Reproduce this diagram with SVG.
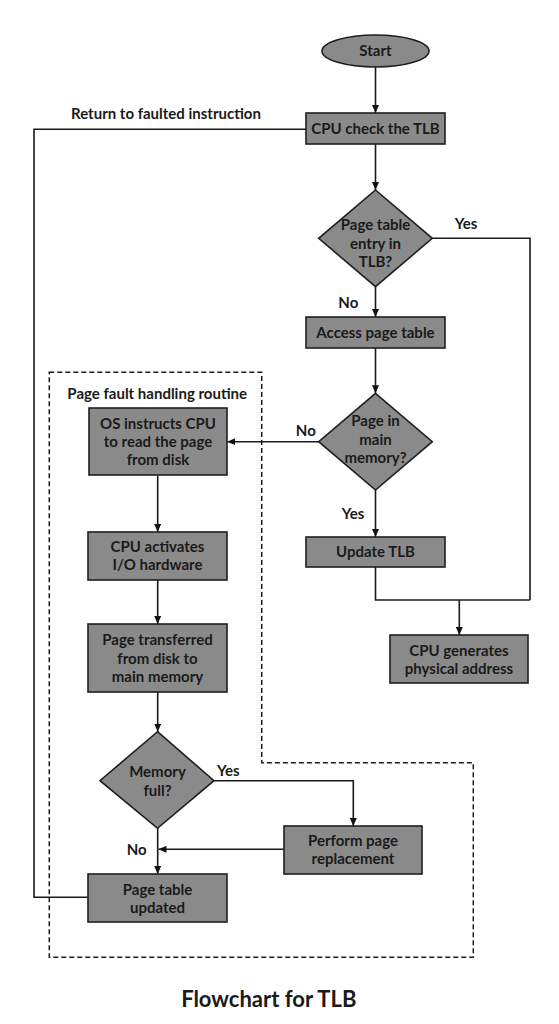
<svg xmlns="http://www.w3.org/2000/svg" width="559" height="1024" viewBox="0 0 559 1024">
<defs>
<marker id="arr" markerUnits="userSpaceOnUse" markerWidth="8" markerHeight="7" refX="8" refY="3.5" orient="auto">
<path d="M0,0 L8,3.5 L0,7 z" fill="#111"/>
</marker>
<style>
.n{fill:#8a8a8a;stroke:#1e1e1e;stroke-width:1.6}
.t{font-family:Lato,"Liberation Sans",sans-serif;font-weight:bold;font-size:15px;fill:#1a1a1a;text-anchor:middle}
.c{fill:none;stroke:#1a1a1a;stroke-width:1.6}
.a{marker-end:url(#arr)}
.d{fill:none;stroke:#1a1a1a;stroke-width:1.5;stroke-dasharray:5,3}
</style>
</defs>
<rect width="559" height="1024" fill="#fff"/>
<g id="cluster">
<path class="d" d="M49.3,372.3 H261.7 V762.7 H473.3 V957.3 H49.3 Z"/>
<text class="t" x="157.2" y="398.5">Page fault handling routine</text>
</g>
<g id="connectors">
<path class="c a" d="M375.5,67 V113"/>
<path class="c a" d="M375.5,144 V190"/>
<path class="c a" d="M375.5,286.7 V317"/>
<path class="c" d="M432.3,238.3 H530 V600"/>
<path class="c a" d="M375.5,348 V393.3"/>
<path class="c a" d="M318.7,441.7 H227.3"/>
<path class="c a" d="M375.5,490 V537"/>
<path class="c" d="M375.5,567 V600 H530"/>
<path class="c a" d="M459.3,600 V635"/>
<path class="c a" d="M157.7,475.7 V532"/>
<path class="c a" d="M157.7,580 V624"/>
<path class="c a" d="M157.7,692 V731.7"/>
<path class="c a" d="M214,780.7 H353.3 V826"/>
<path class="c a" d="M284,849.3 H158.5"/>
<path class="c a" d="M157.7,828.3 V874"/>
<path class="c" d="M88,897.3 H34 V129.3 H306"/>
<text class="t" x="166" y="118.5">Return to faulted instruction</text>
<text class="t" x="466" y="229.3">Yes</text>
<text class="t" x="348.3" y="308">No</text>
<text class="t" x="305.8" y="436.3">No</text>
<text class="t" x="353" y="519.3">Yes</text>
<text class="t" x="228.3" y="776">Yes</text>
<text class="t" x="136.7" y="854.6">No</text>
</g>
<g id="start">
<ellipse class="n" cx="375.5" cy="51" rx="53.5" ry="16"/>
<text class="t" x="375.5" y="56.3">Start</text>
</g>
<g id="cpu-check">
<rect class="n" x="306" y="113" width="139" height="31"/>
<text class="t" x="375.5" y="133.8">CPU check the TLB</text>
</g>
<g id="tlb-decision">
<polygon class="n" points="375.5,190 432.3,238.3 375.5,286.7 318.7,238.3"/>
<text class="t" x="375.5" y="229.6">Page table</text>
<text class="t" x="375.5" y="248.6">entry in</text>
<text class="t" x="375.5" y="267">TLB?</text>
</g>
<g id="access-page-table">
<rect class="n" x="306" y="317" width="139" height="31"/>
<text class="t" x="375.5" y="337.8">Access page table</text>
</g>
<g id="memory-decision">
<polygon class="n" points="375.5,393.3 432.3,441.7 375.5,490 318.7,441.7"/>
<text class="t" x="375.5" y="426.3">Page in</text>
<text class="t" x="375.5" y="444.6">main</text>
<text class="t" x="375.5" y="463">memory?</text>
</g>
<g id="update-tlb">
<rect class="n" x="306" y="537" width="139" height="30"/>
<text class="t" x="375.5" y="557.3">Update TLB</text>
</g>
<g id="cpu-generates">
<rect class="n" x="390" y="635" width="138" height="48"/>
<text class="t" x="459" y="655.8">CPU generates</text>
<text class="t" x="459" y="674.3">physical address</text>
</g>
<g id="os-instructs">
<rect class="n" x="89" y="408" width="138" height="67"/>
<text class="t" x="158" y="428.6">OS instructs CPU</text>
<text class="t" x="158" y="447">to read the page</text>
<text class="t" x="158" y="465.3">from disk</text>
</g>
<g id="cpu-activates">
<rect class="n" x="88" y="532" width="139" height="48"/>
<text class="t" x="157.5" y="552">CPU activates</text>
<text class="t" x="157.5" y="570.3">I/O hardware</text>
</g>
<g id="page-transferred">
<rect class="n" x="88" y="624" width="139" height="68"/>
<text class="t" x="157.5" y="644.6">Page transferred</text>
<text class="t" x="157.5" y="663.6">from disk to</text>
<text class="t" x="157.5" y="682">main memory</text>
</g>
<g id="memory-full">
<polygon class="n" points="157.5,731.7 214,780.7 157.5,828.3 100,780.7"/>
<text class="t" x="157.5" y="777">Memory</text>
<text class="t" x="157.5" y="796">full?</text>
</g>
<g id="page-replacement">
<rect class="n" x="284" y="826" width="138" height="48"/>
<text class="t" x="353" y="846">Perform page</text>
<text class="t" x="353" y="864.3">replacement</text>
</g>
<g id="page-table-updated">
<rect class="n" x="88" y="874" width="139" height="48"/>
<text class="t" x="157.5" y="894.6">Page table</text>
<text class="t" x="157.5" y="912.6">updated</text>
</g>
<g id="title">
<text class="t" x="268.8" y="1007" style="font-size:22px">Flowchart for TLB</text>
</g>
</svg>
